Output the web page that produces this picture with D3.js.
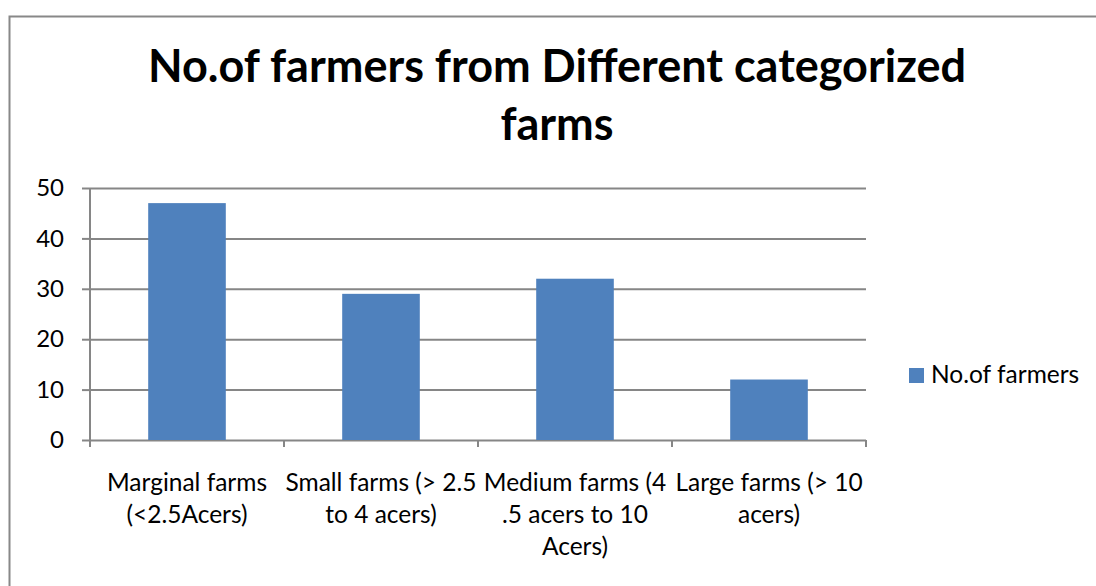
<!DOCTYPE html>
<html>
<head>
<meta charset="utf-8">
<script src="https://cdn.jsdelivr.net/npm/d3@7/dist/d3.min.js"></script>
<style>
  html, body { margin: 0; padding: 0; background: #ffffff; }
  svg { display: block; }
  text { font-family: Lato, "Noto Sans", sans-serif; fill: #000; }
</style>
</head>
<body>
<svg id="chart" width="1096" height="586"></svg>
<script>
// Farm size categories (line breaks as shown under the axis)
const categories = [
  "Marginal farms\n(<2.5Acers)",
  "Small farms (> 2.5\nto 4 acers)",
  "Medium farms (4\n.5 acers to 10\nAcers)",
  "Large farms (> 10\nacers)"
];
const farmers = [47, 29, 32, 12];
const seriesName = "No.of farmers";
const titleLines = ["No.of farmers from Different categorized", "farms"];
const yTicks = [0, 10, 20, 30, 40, 50];

const svg = d3.select("#chart");
const plot = { left: 90, right: 866, top: 188, bottom: 440 };
const barColor = "#4F81BD";
const lineColor = "#868686";
const labelSize = 24.5;

// chart frame (continues past the right and bottom edges)
svg.append("rect")
  .attr("x", 9.5).attr("y", 16.5)
  .attr("width", 1200).attr("height", 700)
  .attr("fill", "#fff").attr("stroke", "#888").attr("stroke-width", 2);

// title
const title = svg.append("text")
  .attr("text-anchor", "middle")
  .attr("font-weight", "bold")
  .attr("font-size", 45);
titleLines.forEach((t, i) => {
  title.append("tspan").attr("x", 557).attr("y", 82 + i * 58).text(t);
});

const x = d3.scaleBand()
  .domain(categories)
  .range([plot.left, plot.right])
  .paddingInner(0.6)
  .paddingOuter(0.3);

const y = d3.scaleLinear()
  .domain([0, 50])
  .range([plot.bottom, plot.top]);

// horizontal gridlines + left ticks
const yAxis = d3.axisLeft(y)
  .tickValues(yTicks)
  .tickSize(8)
  .tickPadding(18)
  .tickFormat(d3.format("d"));
const gy = svg.append("g").attr("transform", `translate(${plot.left},0)`).call(yAxis);
gy.select(".domain").remove();
gy.selectAll(".tick line").attr("stroke", lineColor).attr("stroke-width", 2);
gy.selectAll(".tick text")
  .attr("font-size", 24)
  .attr("font-family", "Lato, sans-serif")
  .attr("fill", "#000");
gy.selectAll(".tick").append("line")
  .attr("x1", 0).attr("x2", plot.right - plot.left)
  .attr("stroke", lineColor).attr("stroke-width", 2);

// vertical axis line
svg.append("line")
  .attr("x1", plot.left).attr("x2", plot.left)
  .attr("y1", plot.top).attr("y2", plot.bottom)
  .attr("stroke", lineColor).attr("stroke-width", 2);

// bars
svg.append("g").selectAll("rect")
  .data(categories)
  .join("rect")
  .attr("x", d => x(d))
  .attr("width", x.bandwidth())
  .attr("y", (d, i) => y(farmers[i]))
  .attr("height", (d, i) => y(0) - y(farmers[i]))
  .attr("fill", barColor);

// category tick marks at band boundaries
const step = x.step();
const bounds = d3.range(categories.length + 1).map(i => plot.left + i * step);
svg.append("g").selectAll("line")
  .data(bounds)
  .join("line")
  .attr("x1", d => d).attr("x2", d => d)
  .attr("y1", plot.bottom).attr("y2", plot.bottom + 7)
  .attr("stroke", lineColor).attr("stroke-width", 2);

// category labels
svg.append("g").selectAll("text")
  .data(categories)
  .join("text")
  .attr("text-anchor", "middle")
  .attr("font-size", labelSize)
  .each(function (d) {
    const cx = x(d) + x.bandwidth() / 2;
    d.split("\n").forEach((line, i) => {
      d3.select(this).append("tspan")
        .attr("x", cx).attr("y", 491 + i * 32).text(line);
    });
  });

// legend
const legend = svg.append("g");
legend.append("rect")
  .attr("x", 909).attr("y", 368).attr("width", 15).attr("height", 15)
  .attr("fill", barColor);
legend.append("text")
  .attr("x", 931).attr("y", 383)
  .attr("font-size", labelSize)
  .text(seriesName);
</script>
</body>
</html>
